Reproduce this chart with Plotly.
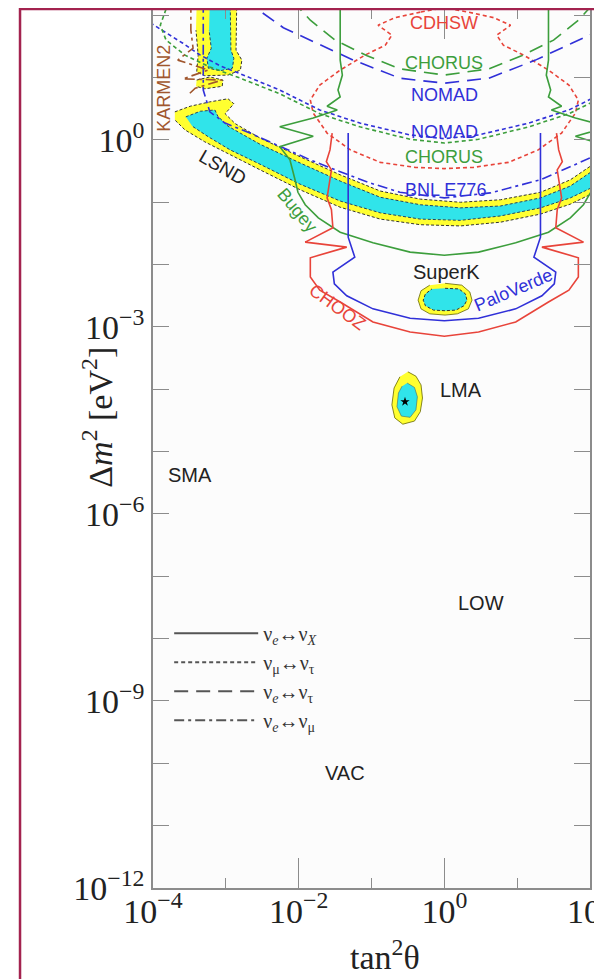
import numpy as np
import plotly.graph_objects as go

# ---------------- data: (log10 tan^2(theta), log10 dm^2/eV^2) ----------------
CDHSW = [(-0.33, 2.05), (-0.68, 1.96), (-0.91, 1.84), (-0.72, 1.68), (-0.81, 1.52), (-1.09, 1.36),
         (-1.43, 1.12), (-1.71, 0.88), (-1.84, 0.64), (-1.80, 0.43), (-1.61, 0.11), (-1.29, -0.16),
         (-0.88, -0.36), (-0.40, -0.44), (0.0, -0.46), (0.40, -0.44), (0.88, -0.36), (1.29, -0.16),
         (1.61, 0.11), (1.80, 0.43), (1.84, 0.64), (1.71, 0.88), (1.43, 1.12), (1.09, 1.36),
         (0.81, 1.52), (0.72, 1.68), (0.91, 1.84), (0.68, 1.96), (0.33, 2.05), (0.0, 2.12), (-0.33, 2.05)]
NOMAD_MT = [(-4.04, 1.88), (-3.90, 1.78), (-3.59, 1.55), (-3.35, 1.36), (-3.08, 1.19), (-2.80, 1.06),
            (-2.26, 0.80), (-1.71, 0.48), (-1.16, 0.27), (-0.47, 0.08), (0.0, 0.02), (0.47, 0.08),
            (1.16, 0.27), (1.71, 0.48), (2.26, 0.80)]
CHORUS_MT = [(-3.79, 2.2), (-3.90, 1.84), (-3.82, 1.60), (-3.56, 1.36), (-3.22, 1.17), (-2.80, 0.99),
             (-2.26, 0.74), (-1.71, 0.42), (-1.16, 0.21), (-0.47, 0.01), (0.0, -0.05), (0.47, 0.01),
             (1.16, 0.21), (1.71, 0.42), (2.26, 0.74)]
NOMAD_ET = [(-2.74, 2.24), (-2.21, 1.80), (-1.75, 1.55), (-1.25, 1.28), (-0.61, 0.99), (0.0, 0.91),
            (0.61, 0.99), (1.25, 1.28), (1.75, 1.55), (2.21, 1.80), (2.74, 2.24)]
CHORUS_ET = [(-2.09, 2.24), (-1.84, 1.92), (-1.50, 1.60), (-1.06, 1.35), (-0.61, 1.14), (0.0, 1.04),
             (0.61, 1.14), (1.06, 1.35), (1.50, 1.60), (1.84, 1.92), (2.09, 2.24)]
BNL_E776 = [(-3.31, 2.2), (-3.31, 0.80), (-3.22, 0.45), (-3.01, 0.27), (-2.67, 0.11), (-2.26, -0.10),
            (-1.84, -0.32), (-1.43, -0.51), (-1.02, -0.69), (-0.61, -0.84), (0.0, -0.93), (0.63, -0.85),
            (1.32, -0.64), (2.0, -0.29), (2.14, -0.23)]
KARMEN2 = [(-3.48, 2.2), (-3.48, 1.76), (-3.45, 1.47), (-3.66, 1.28), (-3.24, 1.12), (-3.59, 0.98),
           (-3.05, 0.96), (-3.42, 0.83), (-3.52, 0.72)]
BUGEY = [(-1.43, 2.2), (-1.43, 1.28), (-1.40, 1.04), (-1.46, 0.80), (-1.43, 0.69), (-1.61, 0.54),
         (-1.47, 0.48), (-1.80, 0.35), (-2.26, 0.21), (-1.80, 0.06), (-2.26, -0.11), (-2.12, -0.32),
         (-2.05, -0.64), (-2.01, -0.84), (-1.91, -1.04), (-1.73, -1.25), (-1.43, -1.48), (-0.98, -1.65),
         (-0.47, -1.80), (0.0, -1.85), (0.47, -1.80), (0.98, -1.65), (1.43, -1.48), (1.73, -1.25),
         (1.91, -1.04), (2.01, -0.84), (2.05, -0.64), (2.12, -0.32), (2.26, -0.11), (1.80, 0.06),
         (2.26, 0.21), (1.80, 0.35), (1.47, 0.48), (1.61, 0.54), (1.43, 0.69), (1.46, 0.80),
         (1.40, 1.04), (1.43, 1.28), (1.43, 2.2)]
CHOOZ = [(-1.54, 0.11), (-1.57, -0.16), (-1.62, -0.35), (-1.55, -0.48), (-1.61, -0.93), (-1.55, -1.12),
         (-1.53, -1.41), (-1.91, -1.64), (-1.34, -1.72), (-1.84, -1.89), (-1.84, -2.20), (-1.71, -2.41),
         (-1.43, -2.60), (-0.98, -2.92), (-0.47, -3.08), (0.0, -3.15), (0.47, -3.08), (0.98, -2.92),
         (1.43, -2.60), (1.71, -2.41), (1.84, -2.20), (1.84, -1.89), (1.34, -1.72), (1.91, -1.64),
         (1.53, -1.41), (1.55, -1.12), (1.61, -0.93), (1.55, -0.48), (1.62, -0.35), (1.57, -0.16),
         (1.54, 0.11)]
PALOVERDE = [(-1.32, 0.11), (-1.32, -1.56), (-1.23, -1.88), (-1.53, -2.12), (-1.51, -2.31), (-1.34, -2.50),
             (-0.98, -2.71), (-0.47, -2.86), (0.0, -2.90), (0.47, -2.86), (0.98, -2.71), (1.34, -2.50),
             (1.51, -2.31), (1.53, -2.12), (1.23, -1.88), (1.32, -1.56), (1.32, 0.11)]

LSND_99_TOP = [(-3.40, 2.2), (-2.85, 2.2), (-2.86, 1.44), (-2.78, 1.28), (-2.80, 1.12), (-2.97, 1.04),
               (-3.29, 1.03), (-3.40, 1.09), (-3.38, 1.36), (-3.41, 1.76)]
LSND_90_TOP = [(-3.22, 2.2), (-2.94, 2.2), (-2.93, 1.44), (-2.89, 1.31), (-2.91, 1.15), (-3.08, 1.11),
               (-3.24, 1.15), (-3.26, 1.31), (-3.20, 1.47), (-3.23, 1.76)]
LSND_99_BLOB = [(-3.40, 0.96), (-3.22, 1.01), (-3.04, 0.96), (-3.05, 0.86), (-3.29, 0.82), (-3.41, 0.86)]
LSND_99 = [(-3.70, 0.45), (-3.49, 0.54), (-3.22, 0.61), (-2.97, 0.66), (-2.89, 0.58), (-3.01, 0.42),
           (-2.87, 0.26), (-2.53, 0.03), (-1.98, -0.27), (-1.43, -0.56), (-0.88, -0.82), (-0.33, -0.95),
           (0.22, -1.00), (0.77, -0.96), (1.32, -0.84), (1.73, -0.64), (2.07, -0.37),
           (2.07, -0.84), (1.73, -1.03), (1.32, -1.19), (0.77, -1.32), (0.22, -1.38), (-0.33, -1.36),
           (-0.88, -1.27), (-1.43, -1.08), (-1.98, -0.80), (-2.53, -0.48), (-2.94, -0.24), (-3.29, -0.03),
           (-3.56, 0.16), (-3.70, 0.32)]
LSND_90 = [(-3.55, 0.37), (-3.35, 0.46), (-3.15, 0.48), (-3.11, 0.38), (-2.97, 0.22), (-2.53, -0.07),
           (-1.98, -0.37), (-1.43, -0.66), (-0.88, -0.92), (-0.33, -1.04), (0.22, -1.09), (0.77, -1.06),
           (1.32, -0.93), (1.73, -0.74), (2.07, -0.47),
           (2.07, -0.74), (1.73, -0.93), (1.32, -1.09), (0.77, -1.22), (0.22, -1.29), (-0.33, -1.27),
           (-0.88, -1.17), (-1.43, -0.98), (-1.98, -0.71), (-2.53, -0.39), (-2.94, -0.16), (-3.24, 0.05),
           (-3.46, 0.22)]
SUPERK_99 = [(0.01, -2.30), (0.24, -2.33), (0.35, -2.44), (0.38, -2.57), (0.33, -2.71), (0.18, -2.79),
             (0.01, -2.81), (-0.20, -2.79), (-0.32, -2.71), (-0.36, -2.57), (-0.32, -2.42), (-0.20, -2.33)]
SUPERK_90 = [(0.01, -2.38), (0.20, -2.39), (0.29, -2.47), (0.31, -2.57), (0.27, -2.66), (0.16, -2.73),
             (0.01, -2.74), (-0.15, -2.73), (-0.26, -2.66), (-0.29, -2.57), (-0.26, -2.47), (-0.17, -2.39)]
LMA_99 = [(-0.50, -3.72), (-0.39, -3.79), (-0.32, -3.93), (-0.30, -4.14), (-0.33, -4.36), (-0.41, -4.51),
          (-0.57, -4.56), (-0.68, -4.46), (-0.72, -4.25), (-0.69, -3.98), (-0.61, -3.80)]
LMA_90 = [(-0.51, -3.90), (-0.41, -3.97), (-0.37, -4.12), (-0.39, -4.33), (-0.47, -4.45), (-0.59, -4.43),
          (-0.65, -4.28), (-0.63, -4.06), (-0.58, -3.95)]
LMA_BEST = [(-0.54, -4.20)]

# labels: text, log10 x, log10 y, colour key, size, angle
LABELS = [("CDHSW", 0.0, 1.87, "red", 18, 0), ("CHORUS", 0.0, 1.23, "green", 18, 0),
          ("NOMAD", 0.0, 0.72, "blue", 18, 0), ("NOMAD", 0.0, 0.13, "blue", 18, 0),
          ("CHORUS", 0.0, -0.27, "green", 18, 0), ("BNL E776", 0.02, -0.80, "blue", 18, 0),
          ("SuperK", 0.03, -2.12, "black", 20, 0), ("PaloVerde", 0.95, -2.41, "blue", 18, -23),
          ("CHOOZ", -1.47, -2.68, "red", 18, 36), ("Bugey", -2.02, -1.12, "green", 18, 50),
          ("LSND", -3.04, -0.45, "black", 19, 30), ("KARMEN2", -3.84, 0.83, "brown", 18, -90),
          ("LMA", 0.23, -4.01, "black", 20, 0), ("SMA", -3.49, -5.38, "black", 20, 0),
          ("LOW", 0.51, -7.43, "black", 20, 0), ("VAC", -1.36, -10.16, "black", 20, 0)]

LEGEND_NAMES = ["ν<sub><i>e</i></sub>↔ν<sub><i>X</i></sub>", "ν<sub>μ</sub>↔ν<sub>τ</sub>",
                "ν<sub><i>e</i></sub>↔ν<sub>τ</sub>", "ν<sub><i>e</i></sub>↔ν<sub>μ</sub>"]

X_TICKS = [1e-4, 1e-2, 1e0, 1e2]
X_TICKTEXT = ["10<sup>−4</sup>", "10<sup>−2</sup>", "10<sup>0</sup>", "10<sup>2</sup>"]
X_MINOR = [1e-3, 1e-1, 1e1]
Y_TICKS = [1e-12, 1e-9, 1e-6, 1e-3, 1e0]
Y_TICKTEXT = ["10<sup>−12</sup>", "10<sup>−9</sup>", "10<sup>−6</sup>", "10<sup>−3</sup>", "10<sup>0</sup>"]
Y_MINOR = [1e-11, 1e-10, 1e-8, 1e-7, 1e-5, 1e-4, 1e-2, 1e-1, 1e1, 1e2]

# ---------------- styles ----------------
COL = {"red": "#e8443a", "green": "#3c9e3c", "blue": "#3030d8", "brown": "#a0562d", "black": "#222222"}
YELLOW = "#ffff30"
CYAN = "#30e4ea"
SHORT = "4px,3px"
LONG = "14px,8px"
DASHDOT = "10px,4px,3px,4px"
SERIF = "Liberation Serif"
SANS = "Liberation Sans"


def xy(pts):
    a = np.array(pts, dtype=float)
    return 10 ** a[:, 0], 10 ** a[:, 1]


fig = go.Figure()


def region(pts, fillcolor, lcolor, dash, width=1.0):
    x, y = xy(pts)
    fig.add_trace(go.Scatter(x=x, y=y, mode="lines", fill="toself", fillcolor=fillcolor,
                             line=dict(color=lcolor, width=width, dash=dash),
                             showlegend=False, hoverinfo="skip"))


def curve(pts, color, dash, width=1.6):
    x, y = xy(pts)
    fig.add_trace(go.Scatter(x=x, y=y, mode="lines", line=dict(color=color, width=width, dash=dash),
                             showlegend=False, hoverinfo="skip"))


# allowed regions
region(LSND_99_TOP, YELLOW, "#333333", "3px,2px")
region(LSND_99_BLOB, YELLOW, "#333333", "3px,2px")
region(LSND_90_TOP, CYAN, "#224466", "3px,2px")
region(LSND_99, YELLOW, "#333333", "3px,2px")
region(LSND_90, CYAN, "#224466", "3px,2px")
region(SUPERK_99, YELLOW, "#666600", "solid", 0.8)
region(SUPERK_90, CYAN, "#333333", "3px,2px")
region(LMA_99, YELLOW, "#666600", "solid", 0.8)
region(LMA_90, CYAN, "#446666", "solid", 0.6)

# exclusion curves
curve(CDHSW, COL["red"], SHORT)
curve(NOMAD_MT, COL["blue"], SHORT)
curve(CHORUS_MT, COL["green"], SHORT)
curve(NOMAD_ET, COL["blue"], LONG)
curve(CHORUS_ET, COL["green"], LONG)
curve(BNL_E776, COL["blue"], DASHDOT)
curve(KARMEN2, COL["brown"], DASHDOT)
curve(BUGEY, COL["green"], "solid")
curve(CHOOZ, COL["red"], "solid")
curve(PALOVERDE, COL["blue"], "solid")

bx, by = xy(LMA_BEST)
fig.add_trace(go.Scatter(x=bx, y=by, mode="markers", marker=dict(symbol="star", size=7, color="black"),
                         showlegend=False, hoverinfo="skip"))

# legend entries (line styles)
for name, dash in zip(LEGEND_NAMES, ["solid", SHORT, LONG, DASHDOT]):
    fig.add_trace(go.Scatter(x=[None], y=[None], mode="lines", name=name,
                             line=dict(color="#555555", width=2, dash=dash)))

for text, lx, ly, ck, size, ang in LABELS:
    fig.add_annotation(x=lx, y=ly, xref="x", yref="y", text=text, showarrow=False, textangle=ang,
                       font=dict(family=SANS, size=size, color=COL[ck]))

# axis titles
fig.add_annotation(x=-0.128, y=0.535, xref="paper", yref="paper", xanchor="center", yanchor="middle",
                   text="Δ<i>m</i><sup>2</sup> [eV<sup>2</sup>]",
                   showarrow=False, textangle=-90, font=dict(family=SERIF, size=34, color="#222"))
fig.add_annotation(x=0.53, y=-0.076, xref="paper", yref="paper", xanchor="center", yanchor="middle",
                   text="tan<sup>2</sup>θ",
                   showarrow=False, font=dict(family=SERIF, size=34, color="#222"))

AX = "#8c8c8c"
fig.update_xaxes(type="log", range=[-4, 2], tickvals=X_TICKS, ticktext=X_TICKTEXT, ticks="inside",
                 ticklen=30, tickcolor=AX, tickwidth=1.2, showline=True, linecolor=AX, linewidth=1.5,
                 mirror="ticks", showgrid=False, zeroline=False, automargin=False,
                 ticklabeloverflow="allow", ticklabelstandoff=-8,
                 tickfont=dict(family=SERIF, size=34, color="#222"),
                 minor=dict(tickvals=X_MINOR, ticks="inside", ticklen=10, tickcolor=AX, tickwidth=1.2,
                            showgrid=False))
fig.update_yaxes(type="log", range=[-12, 2.1], tickvals=Y_TICKS, ticktext=Y_TICKTEXT, ticks="inside",
                 ticklen=16, tickcolor=AX, tickwidth=1.2, showline=True, linecolor=AX, linewidth=1.5,
                 mirror="ticks", showgrid=False, zeroline=False, automargin=False,
                 ticklabeloverflow="allow",
                 tickfont=dict(family=SERIF, size=34, color="#222"),
                 minor=dict(tickvals=Y_MINOR, ticks="inside", ticklen=16, tickcolor=AX, tickwidth=1.2,
                            showgrid=False))

# the page body adds an 8 px offset, so margins are set to land the plot where the reference has it
fig.update_layout(
    width=602, height=979, margin=dict(l=145, r=20, t=1, b=99, autoexpand=False),
    paper_bgcolor="white", plot_bgcolor="#fcfcfc",
    legend=dict(x=0.037, y=0.312, xanchor="left", yanchor="top", bgcolor="rgba(0,0,0,0)",
                font=dict(family=SERIF, size=20, color="#333"), itemwidth=84, tracegroupgap=0),
    shapes=[dict(type="rect", xref="paper", yref="paper", x0=-0.3043, x1=1.016, y0=-0.14, y1=1.0,
                 line=dict(color="#a3234f", width=2.5), layer="above")],
)

fig.write_html("out.html")
